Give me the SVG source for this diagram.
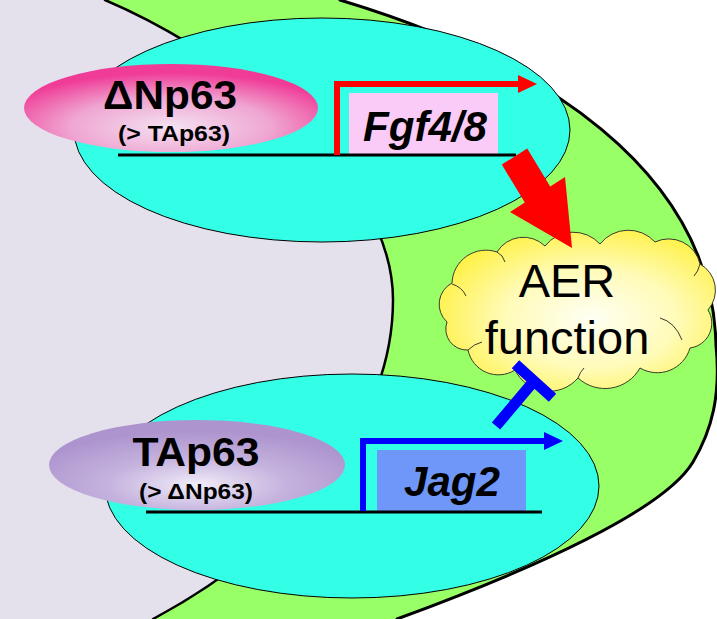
<svg xmlns="http://www.w3.org/2000/svg" width="717" height="619" viewBox="0 0 717 619">
<defs>
<radialGradient id="gPink" cx="0.5" cy="0.72" r="0.62">
<stop offset="0" stop-color="#F4E2F1"/>
<stop offset="0.55" stop-color="#EFA6D2"/>
<stop offset="1" stop-color="#F03C97"/>
</radialGradient>
<radialGradient id="gPurple" cx="0.5" cy="0.72" r="0.6">
<stop offset="0" stop-color="#F1ECF8"/>
<stop offset="0.5" stop-color="#C5B3DE"/>
<stop offset="1" stop-color="#AD94CE"/>
</radialGradient>
<radialGradient id="gCloud" cx="0.55" cy="0.55" r="0.62">
<stop offset="0" stop-color="#FFFFF4"/>
<stop offset="0.5" stop-color="#FFFBB8"/>
<stop offset="1" stop-color="#FFF03A"/>
</radialGradient>
</defs>
<style>
.bound{fill:none;stroke:#000;stroke-linecap:round}
.cell{fill:#33FFE6;stroke:#000;stroke-width:1}
.dna{stroke:#000;stroke-width:3;fill:none}
.big{font-family:"Liberation Sans",Arial,sans-serif;font-weight:bold;text-anchor:middle;fill:#000}
.gene{font-family:"Liberation Sans",Arial,sans-serif;font-weight:bold;font-style:italic;text-anchor:middle;fill:#000}
.aer{font-family:"Liberation Sans",Arial,sans-serif;font-size:47px;text-anchor:middle;fill:#000}
.cloudline{fill:none;stroke:#3a3a2a;stroke-width:1}
</style>

<g id="background">
<rect x="0" y="0" width="717" height="619" fill="#FFFFFF"/>
<path d="M340,0 C540,60 712,170 716,345 C721,395 712,430 693,462 C663,512 530,570 397,619 L0,619 L0,0 Z" fill="#99FF66"/>
<path d="M105,0 C200,40 393,160 393,300 C393,420 300,540 153,619 L0,619 L0,0 Z" fill="#E4E0EC"/>
<path class="bound" stroke-width="3" d="M340,0 C540,60 712,170 716,345 C721,395 712,430 693,462 C663,512 530,570 397,619"/>
<path class="bound" stroke-width="2.5" d="M105,0 C200,40 393,160 393,300 C393,420 300,540 153,619"/>
</g>

<g id="cell-top">
<ellipse class="cell" cx="322" cy="130" rx="248" ry="112"/>
</g>
<g id="cell-bottom">
<ellipse class="cell" cx="352" cy="486" rx="247" ry="112"/>
</g>

<g id="AER">
<path d="M447,322 A24,24 0 0 1 452,283 A34,34 0 0 1 497,252 A31,31 0 0 1 545,246 A36,36 0 0 1 600,244 A36,36 0 0 1 655,242 A32,32 0 0 1 700,264 A30,30 0 0 1 708,310 A25,25 0 0 1 690,348 A34,34 0 0 1 640,368 A40,40 0 0 1 578,378 A38,38 0 0 1 515,370 A31,31 0 0 1 468,350 A21,21 0 0 1 447,322 Z" fill="url(#gCloud)" stroke="#3a3a2a" stroke-width="1"/>
<path class="cloudline" d="M452,284 Q462,287 466,296"/>
<path class="cloudline" d="M497,252 Q503,255 505,262"/>
<path class="cloudline" d="M700,264 Q698,272 694,276"/>
<path class="cloudline" d="M660,318 Q675,322 682,340"/>
<path class="cloudline" d="M468,350 Q474,344 482,342"/>
<path class="cloudline" d="M578,378 Q580,372 584,368"/>
<text class="aer" x="567" y="297">AER</text>
<text class="aer" x="567" y="354">function</text>
</g>

<g id="gene-Fgf">
<rect x="349" y="93" width="149" height="61" fill="#F9CBF6"/>
<text class="gene" x="425" y="141" font-size="43" textLength="124" lengthAdjust="spacingAndGlyphs">Fgf4/8</text>
</g>

<g id="gene-Jag2">
<rect x="377" y="450" width="149" height="61" fill="#6E97F9"/>
<text class="gene" x="452" y="496" font-size="42" textLength="96" lengthAdjust="spacingAndGlyphs">Jag2</text>
</g>

<g id="deltaNp63">
<ellipse cx="171" cy="108" rx="147" ry="44" fill="url(#gPink)"/>
<text class="big" x="170" y="109" font-size="40" textLength="134" lengthAdjust="spacingAndGlyphs">ΔNp63</text>
<text class="big" x="174" y="141" font-size="22" textLength="112" lengthAdjust="spacingAndGlyphs">(&gt; TAp63)</text>
</g>

<g id="TAp63">
<ellipse cx="197" cy="465" rx="148" ry="45" fill="url(#gPurple)"/>
<text class="big" x="196" y="466" font-size="41" textLength="127" lengthAdjust="spacingAndGlyphs">TAp63</text>
<text class="big" x="196" y="499" font-size="22" textLength="114" lengthAdjust="spacingAndGlyphs">(&gt; ΔNp63)</text>
</g>

<g id="connectors">
<line class="dna" x1="118" y1="155" x2="516" y2="155"/>
<line class="dna" x1="146" y1="512" x2="542" y2="512"/>
<path d="M337,155 V84 H521" fill="none" stroke="#FF0000" stroke-width="6"/>
<polygon points="518,75 537,84 518,93" fill="#FF0000"/>
<path d="M363,511 V441 H546" fill="none" stroke="#0000FF" stroke-width="6"/>
<polygon points="544,432 563,441 544,450" fill="#0000FF"/>
<polygon points="501.8,164.6 527.2,148.4 550.2,186.4 565,177 572,248 510,212 524.8,202.6" fill="#FF0000"/>
<line x1="496" y1="426" x2="534" y2="381" stroke="#0000FF" stroke-width="11"/>
<line x1="515.5" y1="364.2" x2="552.5" y2="397.8" stroke="#0000FF" stroke-width="11"/>
</g>
</svg>
